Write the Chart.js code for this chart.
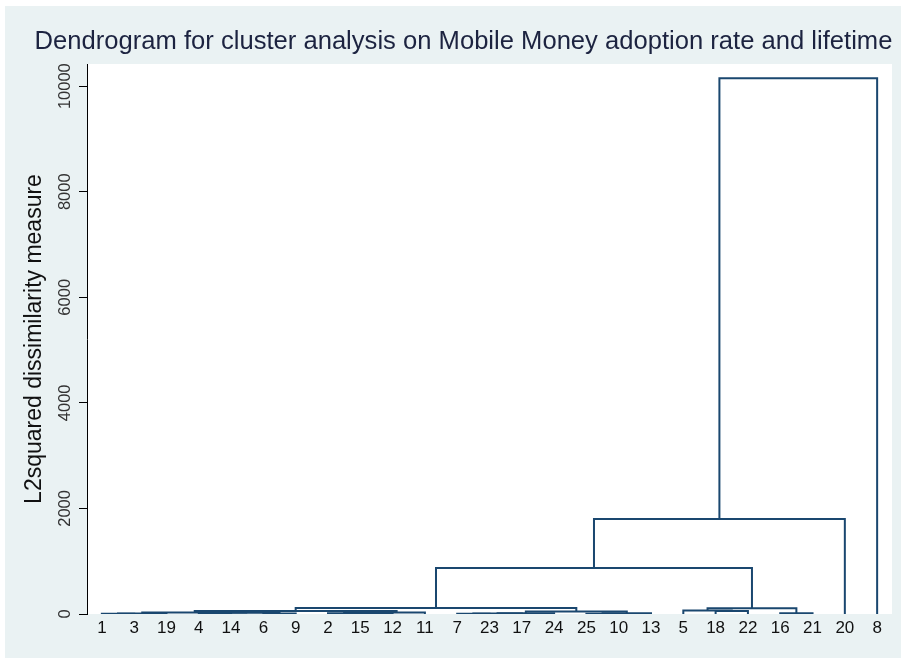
<!DOCTYPE html>
<html>
<head>
<meta charset="utf-8">
<script src="https://cdn.jsdelivr.net/npm/chart.js@4.4.0/dist/chart.umd.min.js"></script>
<style>
  html, body { margin: 0; padding: 0; background: #ffffff; }
  #wrap { position: absolute; left: 5px; top: 6px; width: 896px; height: 652px; background: #eaf2f3; }
</style>
</head>
<body>
<div id="wrap"><canvas id="myChart"></canvas></div>
<script>

// leaf order along the bottom
var leaves = ['1', '3', '19', '4', '14', '6', '9', '2', '15', '12', '11', '7', '23', '17', '24', '25', '10', '13', '5', '18', '22', '16', '21', '20', '8'];

// merges: left child, right child, height (leaf labels or 'm' + merge index)
var mergeLeft  = ['1',  'm0', '4',  '6',  'm2', 'm1', '2',  'm6', 'm7', 'm5', '7',  'm10', 'm11', '25', 'm13', 'm12', 'm9',  '18', '5',   '16', 'm18', 'm16', 'm21', 'm22'];
var mergeRight = ['3',  '19', '14', '9',  'm3', 'm4', '15', '12', '11', 'm8', '23', '17',  '24',  '10', '13',  'm14', 'm15', '22', 'm17', '21', 'm19', 'm20', '20',  '8'];
var mergeHeight = [3,   8,    6,    10,   22,   30,   12,   20,   30,   55,   5,    10,    15,    5,    12,    45,    115,   55,   65,    12,   110,   870,   1800,  10150];

var yTicks = [0, 2000, 4000, 6000, 8000, 10000];

var chartTitle = 'Dendrogram for cluster analysis on Mobile Money adoption rate and lifetime';
var yTitle = 'L2squared dissimilarity measure';

// work out the x position and height of every node
var nodeX = {};
var nodeH = {};
for (var i = 0; i < leaves.length; i++) {
	nodeX[leaves[i]] = i + 1;
	nodeH[leaves[i]] = 0;
}

var datasets = [];
for (var k = 0; k < mergeHeight.length; k++) {
	var l = mergeLeft[k];
	var r = mergeRight[k];
	var h = mergeHeight[k];
	datasets.push({
		data: [
			{x: nodeX[l], y: nodeH[l]},
			{x: nodeX[l], y: h},
			{x: nodeX[r], y: h},
			{x: nodeX[r], y: nodeH[r]}
		],
		showLine: true,
		borderColor: '#1a476f',
		borderWidth: 2,
		pointRadius: 0,
		fill: false,
		tension: 0
	});
	nodeX['m' + k] = (nodeX[l] + nodeX[r]) / 2;
	nodeH['m' + k] = h;
}

var textPlugin = {
	id: 'textPlugin',
	beforeDraw: function(chart) {
		var a = chart.chartArea;
		var ctx = chart.ctx;
		ctx.save();
		ctx.fillStyle = '#ffffff';
		ctx.fillRect(a.left, a.top, a.right - a.left, a.bottom - a.top);
		ctx.restore();
	},
	afterDraw: function(chart) {
		var ctx = chart.ctx;
		var a = chart.chartArea;
		var ys = chart.scales.y;
		ctx.save();
		// title
		ctx.fillStyle = '#1c2340';
		ctx.font = '25.6px "Liberation Sans", Arial, sans-serif';
		ctx.textAlign = 'center';
		ctx.textBaseline = 'alphabetic';
		ctx.fillText(chartTitle, 458.5, 42.5);

		// y tick labels, turned like the axis title
		ctx.fillStyle = '#333333';
		ctx.font = '16.5px "Liberation Sans", Arial, sans-serif';
		for (var t = 0; t < yTicks.length; t++) {
			ctx.save();
			ctx.translate(64.5, ys.getPixelForValue(yTicks[t]));
			ctx.rotate(-Math.PI / 2);
			ctx.fillText(String(yTicks[t]), 0, 0);
			ctx.restore();
		}

		// y axis title
		ctx.fillStyle = '#111111';
		ctx.font = '23px "Liberation Sans", Arial, sans-serif';
		ctx.translate(36, (a.top + a.bottom) / 2);
		ctx.rotate(-Math.PI / 2);
		ctx.fillText(yTitle, 0, 0);
		ctx.restore();
	}
};

var ctx = document.getElementById('myChart').getContext('2d');
var chart = new Chart(ctx, {
	type: 'scatter',
	data: { datasets: datasets },
	plugins: [textPlugin],
	options: {
		responsive: true,
		maintainAspectRatio: false,
		animation: false,
		layout: { padding: { top: 58, left: 0, right: 9, bottom: 0 } },
		plugins: {
			legend: { display: false },
			tooltip: { enabled: false },
			title: { display: false }
		},
		scales: {
			x: {
				type: 'linear',
				min: 0.54,
				max: 25.46,
				afterBuildTicks: function(scale) {
					scale.ticks = leaves.map(function(v, i) { return {value: i + 1}; });
				},
				afterFit: function(scale) { scale.height = 44; },
				grid: { display: false, drawTicks: false },
				border: { display: false },
				ticks: {
					autoSkip: false,
					maxRotation: 0,
					padding: 4,
					color: '#111111',
					font: { family: '"Liberation Sans", Arial, sans-serif', size: 17 },
					callback: function(value) { return leaves[value - 1]; }
				}
			},
			y: {
				min: 0,
				max: 10420,
				afterBuildTicks: function(scale) {
					scale.ticks = yTicks.map(function(v) { return {value: v}; });
				},
				afterFit: function(scale) { scale.width = 82; },
				grid: { display: true, drawOnChartArea: false, drawTicks: true, tickLength: 8, color: '#000000', lineWidth: 1 },
				border: { display: true, color: '#000000', width: 1 },
				ticks: { display: false }
			}
		}
	}
});

</script>
</body>
</html>
